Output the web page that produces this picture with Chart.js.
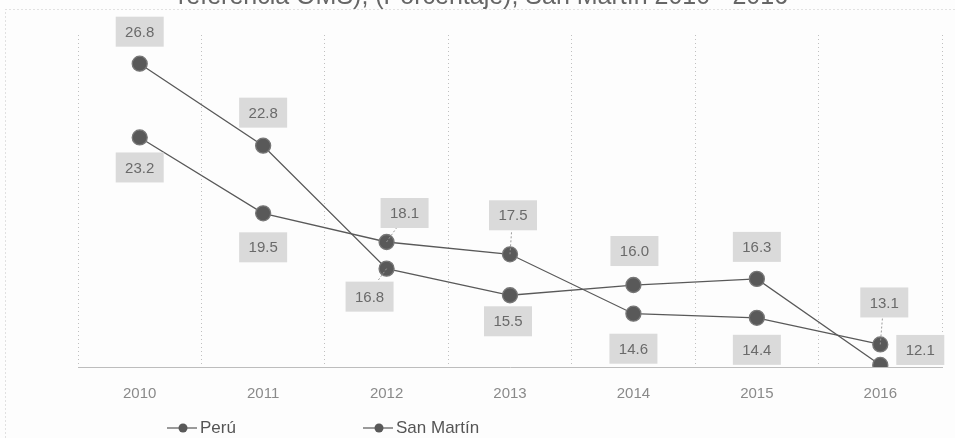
<!DOCTYPE html>
<html>
<head>
<meta charset="utf-8">
<script src="https://cdn.jsdelivr.net/npm/chart.js@4.4.1/dist/chart.umd.min.js"></script>
<style>
  html, body { margin: 0; padding: 0; background: #fdfdfd; }
  #wrap { width: 955px; height: 438px; position: relative; }
</style>
</head>
<body>
<div id="wrap"><canvas id="chart" width="955" height="438"></canvas></div>
<script>
const years = ['2010', '2011', '2012', '2013', '2014', '2015', '2016'];
const peru = [23.2, 19.5, 18.1, 17.5, 14.6, 14.4, 13.1];
const sanMartin = [26.8, 22.8, 16.8, 15.5, 16.0, 16.3, 12.1];
const titleText = 'referencia OMS), (Porcentaje), San Martín 2010 - 2016';

// where each value box sits relative to its point (px)
const labelOffsets = {
    0: [[0, 30], [0, 34], [18, -29], [3, -39], [0, 35], [0, 32], [4, -42]],
    1: [[0, -32], [0, -33], [-17, 28], [-2, 26], [1, -34], [0, -32], [40, -15]]
};
const leaders = {
    0: [false, false, true, true, false, false, true],
    1: [false, false, true, false, false, false, false]
};

const lineColor = '#595959';
const textColor = '#6a6a6a';

const valueBoxes = {
    id: 'valueBoxes',
    afterDatasetsDraw(chart) {
        const ctx = chart.ctx;
        ctx.save();
        ctx.font = '15px "Liberation Sans", Arial, sans-serif';
        ctx.textAlign = 'center';
        ctx.textBaseline = 'middle';
        chart.data.datasets.forEach((ds, di) => {
            const meta = chart.getDatasetMeta(di);
            meta.data.forEach((pt, i) => {
                const [dx, dy] = labelOffsets[di][i];
                const cx = pt.x + dx;
                const cy = pt.y + dy;
                const w = 48, h = 30;
                if (leaders[di][i]) {
                    ctx.strokeStyle = '#9a9a9a';
                    ctx.lineWidth = 1;
                    ctx.setLineDash([2, 2]);
                    ctx.beginPath();
                    ctx.moveTo(pt.x, pt.y);
                    ctx.lineTo(cx - dx * 0.45, cy + (dy > 0 ? -h / 2 : h / 2));
                    ctx.stroke();
                    ctx.setLineDash([]);
                }
                ctx.fillStyle = '#dadada';
                ctx.fillRect(cx - w / 2, cy - h / 2, w, h);
                ctx.fillStyle = textColor;
                ctx.fillText(ds.data[i].toFixed(1), cx, cy + 1);
            });
        });
        ctx.restore();
    }
};

const decorations = {
    id: 'decorations',
    beforeDraw(chart) {
        const ctx = chart.ctx;
        ctx.save();
        // outer dotted frame
        ctx.strokeStyle = '#c4c4c4';
        ctx.lineWidth = 1;
        ctx.setLineDash([1, 3]);
        ctx.strokeRect(5.5, 9.5, 960, 440);
        ctx.setLineDash([]);
        // title, cut by the top edge
        ctx.fillStyle = '#666';
        ctx.font = '25px "Liberation Sans", Arial, sans-serif';
        ctx.textAlign = 'center';
        ctx.textBaseline = 'alphabetic';
        ctx.fillText(titleText, 483, 4);
        ctx.restore();
    },
    afterDraw(chart) {
        // legend
        const ctx = chart.ctx;
        const xs = [167, 363];
        const y = 428;
        ctx.save();
        ctx.font = '17px "Liberation Sans", Arial, sans-serif';
        ctx.textBaseline = 'middle';
        chart.data.datasets.forEach((ds, i) => {
            const x = xs[i];
            ctx.strokeStyle = lineColor;
            ctx.lineWidth = 1.2;
            ctx.beginPath();
            ctx.moveTo(x, y);
            ctx.lineTo(x + 30, y);
            ctx.stroke();
            ctx.fillStyle = lineColor;
            ctx.beginPath();
            ctx.arc(x + 16, y, 4.5, 0, Math.PI * 2);
            ctx.fill();
            ctx.fillStyle = '#555';
            ctx.fillText(ds.label, x + 33, y);
        });
        ctx.restore();
    }
};

new Chart(document.getElementById('chart'), {
    type: 'line',
    data: {
        labels: years,
        datasets: [
            {
                label: 'Perú',
                data: peru,
                borderColor: lineColor,
                borderWidth: 1.3,
                pointBackgroundColor: lineColor,
                pointBorderColor: '#777',
                pointRadius: 7.5,
                tension: 0
            },
            {
                label: 'San Martín',
                data: sanMartin,
                borderColor: lineColor,
                borderWidth: 1.3,
                pointBackgroundColor: lineColor,
                pointBorderColor: '#777',
                pointRadius: 7.5,
                tension: 0
            }
        ]
    },
    options: {
        responsive: false,
        animation: false,
        layout: { padding: { left: 78, right: 13, top: 35, bottom: 17 } },
        plugins: {
            legend: { display: false },
            tooltip: { enabled: false }
        },
        scales: {
            x: {
                offset: true,
                grid: {
                    offset: true,
                    color: '#c0c0c0',
                    lineWidth: 1,
                    drawTicks: false,
                    tickBorderDash: [1, 3]
                },
                border: { display: true, color: '#bdbdbd', dash: [1, 3] },
                ticks: {
                    color: '#8a8a8a',
                    padding: 18,
                    font: { family: '"Liberation Sans", Arial, sans-serif', size: 15 }
                }
            },
            y: {
                display: false,
                min: 12,
                max: 28.2
            }
        }
    },
    plugins: [decorations, valueBoxes]
});
</script>
</body>
</html>
